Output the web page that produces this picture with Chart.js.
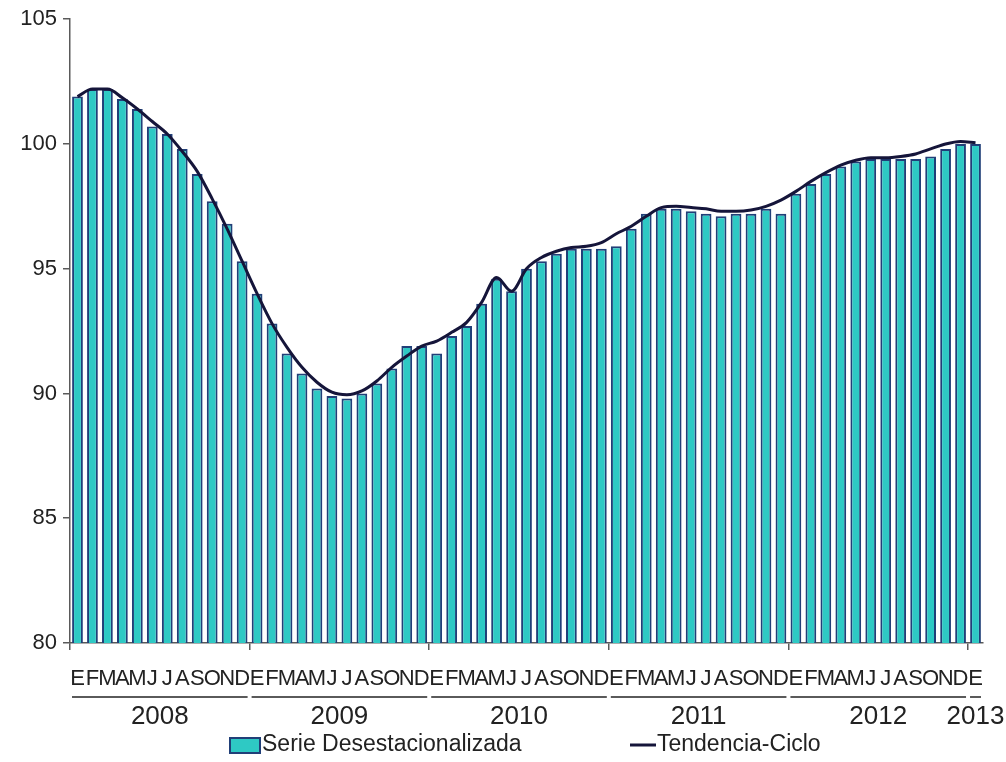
<!DOCTYPE html>
<html>
<head>
<meta charset="utf-8">
<script src="https://cdn.jsdelivr.net/npm/chart.js@4.4.0/dist/chart.umd.min.js"></script>
<style>
html,body{margin:0;padding:0;background:#ffffff;}
canvas{display:block;}
</style>
</head>
<body>
<canvas id="c" width="1006" height="762"></canvas>
<script>
// ---- data ----
const monthLetters = ['E','F','M','A','M','J','J','A','S','O','N','D'];
const years = ['2008','2009','2010','2011','2012','2013'];
const yTicks = [80, 85, 90, 95, 100, 105];

const serieDesestacionalizada = [
  101.9, 102.2, 102.2, 101.8, 101.4, 100.7, 100.4, 99.8, 98.8, 97.7, 96.8, 95.3,
  94.0, 92.8, 91.6, 90.8, 90.2, 89.9, 89.8, 90.0, 90.4, 91.0, 91.9, 91.9,
  91.6, 92.3, 92.7, 93.6, 94.6, 94.1, 95.0, 95.3, 95.6, 95.8, 95.8, 95.8,
  95.9, 96.6, 97.2, 97.4, 97.4, 97.3, 97.2, 97.1, 97.2, 97.2, 97.4, 97.2,
  98.0, 98.4, 98.8, 99.1, 99.3, 99.4, 99.4, 99.4, 99.4, 99.5, 99.8, 100.0,
  100.0
];
const tendenciaCiclo = [
  101.9, 102.2, 102.2, 101.85, 101.4, 100.9, 100.4, 99.7, 98.9, 97.8, 96.6, 95.3,
  94.0, 92.8, 91.85, 91.05, 90.45, 90.05, 89.95, 90.1, 90.5, 91.05, 91.5, 91.9,
  92.1, 92.45, 92.85, 93.65, 94.65, 94.1, 95.0, 95.45, 95.7, 95.85, 95.9, 96.05,
  96.4, 96.7, 97.1, 97.45, 97.5, 97.45, 97.4, 97.3, 97.3, 97.35, 97.5, 97.75,
  98.1, 98.5, 98.85, 99.15, 99.35, 99.45, 99.45, 99.5, 99.6, 99.8, 100.0, 100.1,
  100.05
];

// month-letter category labels (Jan 2008 .. Jan 2013)
const categories = [];
years.forEach(() => {
  monthLetters.forEach((m) => {
    if (categories.length < serieDesestacionalizada.length) categories.push(m);
  });
});

const FONT = '"Liberation Sans", Arial, Helvetica, sans-serif';
const TEXT = '#222222';
const AXIS = '#5a5a5a';

const yearAxisPlugin = {
  id: 'yearAxis',
  afterDraw(chart) {
    const xs = chart.scales.x;
    const ctx = chart.ctx;
    const pitch = xs.getPixelForValue(1) - xs.getPixelForValue(0);
    const lineY = xs.top + 54;
    const labelY = xs.top + 74;
    ctx.save();
    years.forEach((yr, k) => {
      const first = k * 12;
      const last = Math.min(first + 11, categories.length - 1);
      const x0 = xs.getPixelForValue(first) - pitch / 2 + 2;
      const x1 = xs.getPixelForValue(last) + pitch / 2 - 2;
      ctx.strokeStyle = AXIS;
      ctx.lineWidth = 2;
      ctx.beginPath();
      ctx.moveTo(x0, lineY);
      ctx.lineTo(x1, lineY);
      ctx.stroke();
      ctx.fillStyle = TEXT;
      ctx.font = '26px ' + FONT;
      ctx.textAlign = 'center';
      ctx.textBaseline = 'middle';
      ctx.fillText(yr, (x0 + x1) / 2, labelY);
    });

    // legend
    const ds = chart.data.datasets;
    const legY = xs.top + 102;
    ctx.font = '23px ' + FONT;
    ctx.textAlign = 'left';
    ctx.textBaseline = 'middle';
    ctx.fillStyle = ds[1].backgroundColor;
    ctx.fillRect(230, legY - 7, 30, 15);
    ctx.strokeStyle = ds[1].borderColor;
    ctx.lineWidth = 2;
    ctx.strokeRect(230, legY - 7, 30, 15);
    ctx.fillStyle = TEXT;
    ctx.fillText(ds[1].label, 262, legY);
    ctx.strokeStyle = ds[0].borderColor;
    ctx.lineWidth = 3;
    ctx.beginPath();
    ctx.moveTo(630, legY);
    ctx.lineTo(656, legY);
    ctx.stroke();
    ctx.fillText(ds[0].label, 657, legY);
    ctx.restore();
  }
};

new Chart(document.getElementById('c'), {
  data: {
    labels: categories,
    datasets: [
      {
        type: 'line',
        label: 'Tendencia-Ciclo',
        data: tendenciaCiclo,
        borderColor: '#15153a',
        borderWidth: 3,
        pointRadius: 0,
        cubicInterpolationMode: 'monotone',
        fill: false,
        order: 0
      },
      {
        type: 'bar',
        label: 'Serie Desestacionalizada',
        data: serieDesestacionalizada,
        backgroundColor: '#2ec9c4',
        borderColor: '#213f78',
        borderWidth: 2,
        categoryPercentage: 1.0,
        barPercentage: 0.72,
        order: 1
      }
    ]
  },
  options: {
    responsive: false,
    animation: false,
    devicePixelRatio: 1,
    layout: { padding: { left: 0, right: 23, top: 18, bottom: 0 } },
    plugins: {
      legend: { display: false },
      tooltip: { enabled: false },
      title: { display: false }
    },
    scales: {
      x: {
        type: 'category',
        offset: true,
        grid: {
          offset: true,
          drawOnChartArea: false,
          drawTicks: true,
          tickLength: 7,
          lineWidth: 1.5,
          color: (c) => (c.index % 12 === 0 || c.index === categories.length) ? AXIS : 'rgba(0,0,0,0)'
        },
        border: { display: true, color: AXIS, width: 1.5 },
        ticks: {
          autoSkip: false,
          maxRotation: 0,
          minRotation: 0,
          padding: 16,
          color: TEXT,
          font: { family: FONT, size: 22 }
        },
        afterFit: (s) => { s.height = 119; }
      },
      y: {
        min: 80,
        max: 105,
        afterBuildTicks: (s) => { s.ticks = yTicks.map(v => ({ value: v })); },
        grid: {
          drawOnChartArea: false,
          drawTicks: true,
          tickLength: 7,
          lineWidth: 1.5,
          color: AXIS
        },
        border: { display: true, color: AXIS, width: 1.5 },
        ticks: {
          padding: 6,
          color: TEXT,
          font: { family: FONT, size: 22 }
        },
        afterFit: (s) => { s.width = 70; }
      }
    }
  },
  plugins: [yearAxisPlugin]
});
</script>
</body>
</html>
